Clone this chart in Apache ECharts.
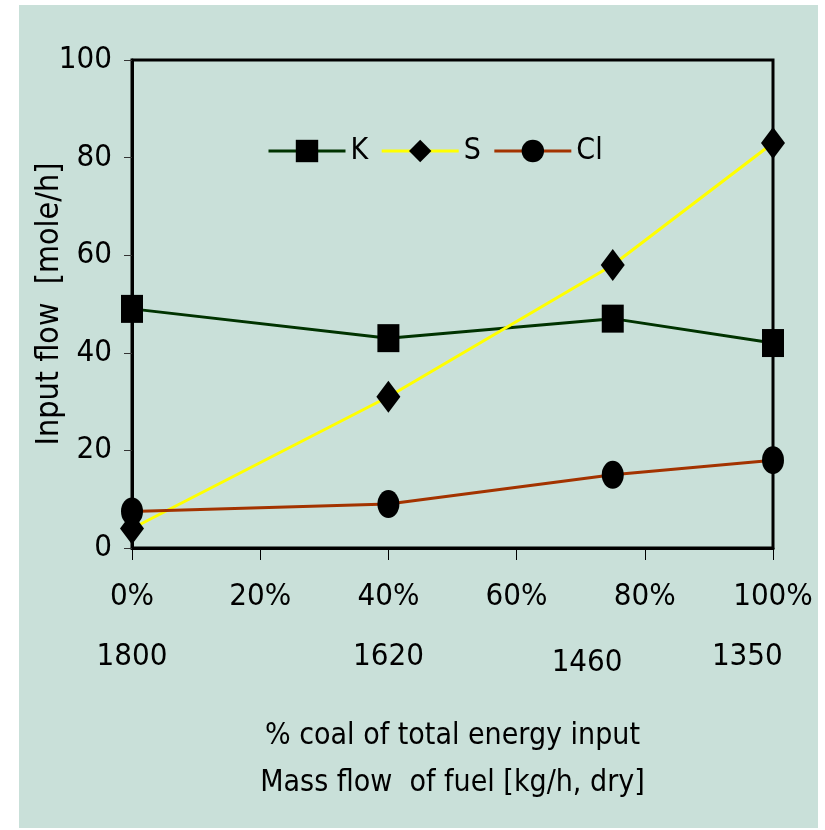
<!DOCTYPE html>
<html>
<head>
<meta charset="utf-8">
<script src="https://cdn.jsdelivr.net/npm/echarts@6/dist/echarts.min.js"></script>
<style>
  html, body { margin: 0; padding: 0; background: #fff; }
  #chart { width: 825px; height: 830px; }
</style>
</head>
<body>
<div id="chart"></div>
<script>
// % coal of total energy input
const coalShare = [0, 40, 75, 100];
// input flows [mole/h]
const kFlow = [49, 43, 47, 42];
const sFlow = [4, 31, 58, 83];
const clFlow = [7.5, 9, 15, 18];
// second row of x labels: mass flow of fuel [kg/h, dry]
const massFlowLabels = ['1800', '1620', '1460', '1350'];
const massFlowAt = [0, 40, 71, 96];
const massFlowStyle = ['m', 'm', 'lo', 'hi'];

const font = "'Liberation Sans Narrow', 'DejaVu Sans Condensed', sans-serif";
const bg = '#c9e0d9';
const ellipse = 'path://M0,1A1,1 0 1,0 2,1A1,1 0 1,0 0,1Z';

const pairs = (ys) => coalShare.map((x, i) => [x, ys[i]]);

const chart = echarts.init(document.getElementById('chart'));
const option = {
    backgroundColor: '#fff',
    animation: false,
    textStyle: {fontFamily: font, color: '#000'},
    graphic: [{
        type: 'rect', z: -10, silent: true,
        shape: {x: 19, y: 5, width: 799, height: 823},
        style: {fill: bg}
    }],
    grid: {
        left: 132, right: 52, top: 60, bottom: 282,
        show: true, borderColor: '#000', borderWidth: 3,
        backgroundColor: 'transparent'
    },
    legend: {
        left: 262, top: 131,
        itemWidth: 77, itemHeight: 28, itemGap: 12,
        lineStyle: {width: 3},
        textStyle: {fontFamily: font, fontSize: 30, color: '#000'},
        data: ['K', 'S', 'Cl']
    },
    xAxis: [{
        type: 'value', min: 0, max: 100, interval: 20,
        splitLine: {show: false},
        axisLine: {lineStyle: {color: '#000', width: 3}},
        axisTick: {show: true, length: 12, lineStyle: {color: '#000', width: 1}},
        axisLabel: {formatter: '{value}%', fontSize: 31, color: '#000', margin: 33},
        name: '% coal of total energy input\nMass flow  of fuel [kg/h, dry]',
        nameLocation: 'middle', nameGap: 165, nameMoveOverlap: false,
        nameTextStyle: {fontSize: 30, lineHeight: 47, color: '#000'}
    }, {
        type: 'value', min: 0, max: 100, position: 'bottom',
        splitLine: {show: false},
        axisLine: {show: false},
        axisTick: {show: false},
        axisLabel: {
            customValues: massFlowAt,
            margin: 93, fontSize: 31, color: '#000',
            formatter: (v) => {
                const i = massFlowAt.indexOf(v);
                return i < 0 ? '' : '{' + massFlowStyle[i] + '|' + massFlowLabels[i] + '}';
            },
            rich: {
                m: {fontSize: 31, padding: [0, 0, 0, 0]},
                lo: {fontSize: 31, padding: [6, 0, 0, 0]},
                hi: {fontSize: 31, padding: [0, 0, 10, 0]}
            }
        }
    }],
    yAxis: {
        type: 'value', min: 0, max: 100, interval: 20,
        splitLine: {show: false},
        axisLine: {lineStyle: {color: '#000', width: 3}},
        axisTick: {show: true, length: 8, lineStyle: {color: '#333', width: 1}},
        axisLabel: {fontSize: 31, color: '#000', margin: 20},
        name: 'Input flow  [mole/h]',
        nameLocation: 'middle', nameGap: 66, nameMoveOverlap: false,
        nameTextStyle: {fontSize: 32, color: '#000'}
    },
    series: [{
        name: 'K', type: 'line', data: pairs(kFlow),
        symbol: 'rect', symbolSize: [22, 28],
        lineStyle: {color: '#003300', width: 3},
        itemStyle: {color: '#000'}
    }, {
        name: 'S', type: 'line', data: pairs(sFlow),
        symbol: 'diamond', symbolSize: [24, 32],
        lineStyle: {color: '#ffff00', width: 3},
        itemStyle: {color: '#000'}
    }, {
        name: 'Cl', type: 'line', data: pairs(clFlow),
        symbol: ellipse, symbolSize: [22, 28],
        lineStyle: {color: '#a33300', width: 3},
        itemStyle: {color: '#000'}
    }]
};
chart.setOption(option);
</script>
</body>
</html>
